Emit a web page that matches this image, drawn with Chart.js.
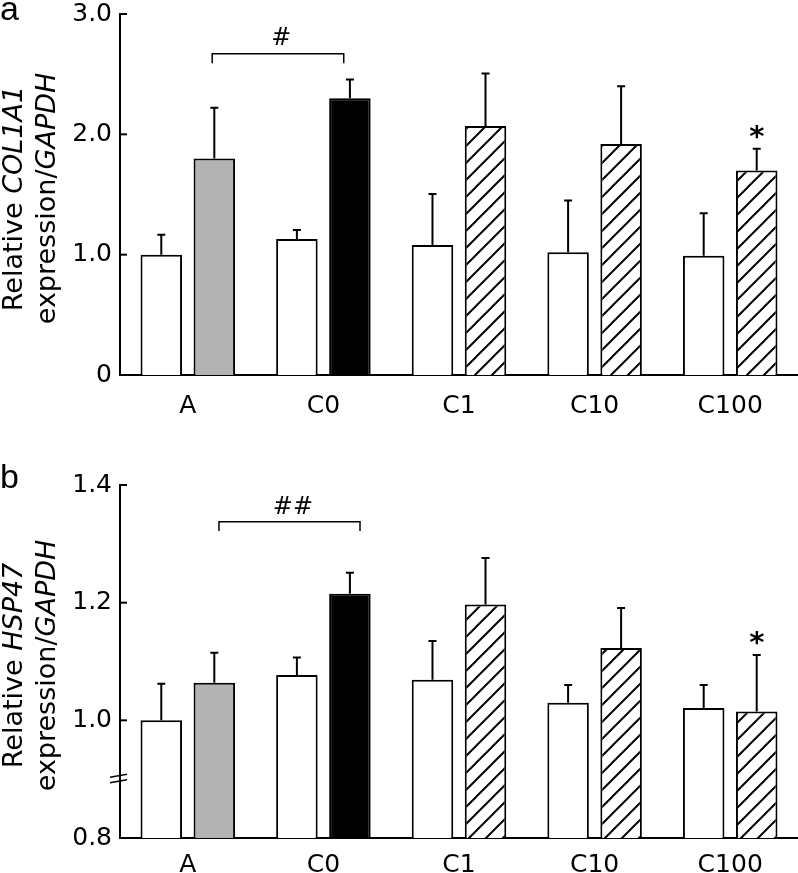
<!DOCTYPE html>
<html>
<head>
<meta charset="utf-8">
<script src="https://cdn.jsdelivr.net/npm/chart.js@4.4.1/dist/chart.umd.min.js"></script>
<style>
  html, body { margin: 0; padding: 0; background: #fff; }
  #wrap { position: relative; width: 798px; height: 873px; overflow: hidden; }
  canvas { position: absolute; left: 0; }
  #chartA { top: 0; }
  #chartB { top: 440px; }
</style>
</head>
<body>
<div id="wrap">
  <canvas id="chartA" width="798" height="440"></canvas>
  <canvas id="chartB" width="798" height="433"></canvas>
</div>
<script>
const categories = ['A', 'C0', 'C1', 'C10', 'C100'];

// panel a: COL1A1
const col1a1Control = [1.00, 1.13, 1.08, 1.02, 0.99];
const col1a1ControlSD = [0.165, 0.075, 0.425, 0.43, 0.355];
const col1a1Treated = [1.80, 2.30, 2.07, 1.92, 1.70];
const col1a1TreatedSD = [0.42, 0.155, 0.435, 0.48, 0.18];
const col1a1Ticks = [0, 1, 2, 3];
const col1a1TickLabels = ['0', '1.0', '2.0', '3.0'];

// panel b: HSP47
const hsp47Control = [1.000, 1.077, 1.069, 1.030, 1.021];
const hsp47ControlSD = [0.062, 0.030, 0.066, 0.030, 0.039];
const hsp47Treated = [1.064, 1.215, 1.197, 1.123, 1.015];
const hsp47TreatedSD = [0.051, 0.036, 0.079, 0.068, 0.096];
const hsp47Ticks = [0.8, 1.0, 1.2, 1.4];
const hsp47TickLabels = ['0.8', '1.0', '1.2', '1.4'];

// significance marks (x in category units, y in data units)
const col1a1Bracket = { from: 0.18, to: 1.15, y: 2.67, drop: 2.59, label: '#', labelX: 0.69, labelY: 2.82 };
const hsp47Bracket = { from: 0.23, to: 1.27, y: 1.3375, drop: 1.322, label: '##', labelX: 0.775, labelY: 1.366 };
const col1a1Stars = [4];
const hsp47Stars = [4];

Chart.defaults.font.family = "'DejaVu Sans', sans-serif";
Chart.defaults.color = '#000';

function makeHatch() {
  const s = 17;
  const c = document.createElement('canvas');
  c.width = s; c.height = s;
  const g = c.getContext('2d');
  g.fillStyle = '#fff';
  g.fillRect(0, 0, s, s);
  g.strokeStyle = '#000';
  g.lineWidth = 2;
  g.beginPath();
  g.moveTo(-2, s + 2); g.lineTo(s + 2, -2);
  g.moveTo(-2, 2); g.lineTo(2, -2);
  g.moveTo(s - 2, s + 2); g.lineTo(s + 2, s - 2);
  g.stroke();
  return g.createPattern(c, 'repeat');
}
const hatch = makeHatch();

function inkText(ctx, s, cx, cy) {
  const m = ctx.measureText(s);
  ctx.textAlign = 'center';
  ctx.textBaseline = 'alphabetic';
  ctx.fillText(s, cx, cy + (m.actualBoundingBoxAscent - m.actualBoundingBoxDescent) / 2);
}

const decor = {
  id: 'decor',
  afterDraw(chart, args, o) {
    const ctx = chart.ctx, x = chart.scales.x, y = chart.scales.y, area = chart.chartArea;
    ctx.save();
    ctx.strokeStyle = '#000';
    ctx.fillStyle = '#000';
    ctx.lineWidth = 2;

    // error bars
    chart.data.datasets.forEach((ds, di) => {
      chart.getDatasetMeta(di).data.forEach((bar, i) => {
        const top = y.getPixelForValue(ds.data[i] + ds.sd[i]);
        ctx.beginPath();
        ctx.moveTo(bar.x, bar.y);
        ctx.lineTo(bar.x, top);
        ctx.moveTo(bar.x - 4, top);
        ctx.lineTo(bar.x + 4, top);
        ctx.stroke();
      });
    });

    // inward tick marks
    y.ticks.forEach(t => {
      const py = y.getPixelForValue(t.value);
      ctx.beginPath();
      ctx.moveTo(area.left, py);
      ctx.lineTo(area.left + 7, py);
      ctx.stroke();
    });

    // axis break
    if (o.breakAt !== undefined) {
      const py = y.getPixelForValue(o.breakAt);
      ctx.lineWidth = 1.5;
      [-3.5, 2].forEach(d => {
        ctx.beginPath();
        ctx.moveTo(area.left - 10, py + d + 1.5);
        ctx.lineTo(area.left + 7, py + d - 1.5);
        ctx.stroke();
      });
    }

    // bracket with label
    const b = o.bracket;
    const x1 = x.getPixelForValue(b.from), x2 = x.getPixelForValue(b.to);
    const by = y.getPixelForValue(b.y), bd = y.getPixelForValue(b.drop);
    ctx.lineWidth = 1.5;
    ctx.beginPath();
    ctx.moveTo(x1, bd); ctx.lineTo(x1, by); ctx.lineTo(x2, by); ctx.lineTo(x2, bd);
    ctx.stroke();
    ctx.font = "24px 'DejaVu Sans'";
    inkText(ctx, b.label, x.getPixelForValue(b.labelX), y.getPixelForValue(b.labelY));

    // stars over treated bars
    const ds = chart.data.datasets[1];
    ctx.font = "bold 29px 'DejaVu Sans'";
    o.stars.forEach(i => {
      const bar = chart.getDatasetMeta(1).data[i];
      const top = y.getPixelForValue(ds.data[i] + ds.sd[i]);
      inkText(ctx, '*', bar.x, top - 17);
    });

    // panel letter
    ctx.font = "34px 'Liberation Sans'";
    ctx.textAlign = 'left';
    ctx.textBaseline = 'alphabetic';
    ctx.fillText(o.letter, 0, o.letterY);

    // y-axis title, two lines with italic gene names
    const cy = (area.top + area.bottom) / 2 + 4;
    o.title.forEach((line, li) => {
      const fonts = line.map(seg => (seg[1] ? 'italic ' : '') + "27px 'DejaVu Sans'");
      let total = 0;
      const widths = line.map((seg, k) => { ctx.font = fonts[k]; const w = ctx.measureText(seg[0]).width; total += w; return w; });
      ctx.save();
      ctx.translate(o.titleX[li], cy);
      ctx.rotate(-Math.PI / 2);
      let pos = -total / 2;
      line.forEach((seg, k) => {
        ctx.font = fonts[k];
        ctx.fillText(seg[0], pos, 0);
        pos += widths[k];
      });
      ctx.restore();
    });
    ctx.restore();
  }
};

function makeChart(id, cfg) {
  return new Chart(document.getElementById(id), {
    type: 'bar',
    data: {
      labels: categories,
      datasets: [
        { data: cfg.control, sd: cfg.controlSD, backgroundColor: '#fff', borderColor: '#000', borderWidth: 2, base: cfg.min },
        { data: cfg.treated, sd: cfg.treatedSD, backgroundColor: ['#b3b3b3', '#000', hatch, hatch, hatch], borderColor: '#000', borderWidth: 2, base: cfg.min },
      ],
    },
    options: {
      responsive: false,
      animation: false,
      categoryPercentage: 0.782,
      barPercentage: 0.783,
      layout: { padding: { top: cfg.top, left: 0, right: 0, bottom: 0 } },
      plugins: {
        legend: { display: false },
        tooltip: { enabled: false },
        decor: cfg.decor,
      },
      scales: {
        x: {
          z: 1,
          grid: { display: false, drawTicks: false },
          border: { display: true, color: '#000', width: 2 },
          ticks: { font: { size: 25 }, padding: cfg.xPad, maxRotation: 0 },
          afterFit: (scale) => { scale.height = cfg.xHeight; scale.paddingLeft = 0; scale.paddingRight = 0; },
        },
        y: {
          z: 1,
          min: cfg.min,
          max: cfg.max,
          grid: { display: false, drawTicks: false },
          border: { display: true, color: '#000', width: 2 },
          ticks: {
            font: { size: 25 },
            padding: 8,
            callback: (v) => { const k = cfg.ticks.findIndex(t => Math.abs(t - v) < 1e-6); return k >= 0 ? cfg.tickLabels[k] : ''; },
          },
          afterBuildTicks: (scale) => { scale.ticks = cfg.ticks.map(v => ({ value: v })); },
          afterFit: (scale) => { scale.width = 120; scale.paddingTop = 0; scale.paddingBottom = 0; },
        },
      },
    },
    plugins: [decor],
  });
}

makeChart('chartA', {
  control: col1a1Control, controlSD: col1a1ControlSD,
  treated: col1a1Treated, treatedSD: col1a1TreatedSD,
  min: 0, max: 3, ticks: col1a1Ticks, tickLabels: col1a1TickLabels,
  top: 14, xHeight: 65, xPad: 16,
  decor: {
    bracket: col1a1Bracket, stars: col1a1Stars, letter: 'a', letterY: 20,
    titleX: [22, 55],
    title: [[['Relative ', false], ['COL1A1', true]], [['expression/', false], ['GAPDH', true]]],
  },
});

makeChart('chartB', {
  control: hsp47Control, controlSD: hsp47ControlSD,
  treated: hsp47Treated, treatedSD: hsp47TreatedSD,
  min: 0.8, max: 1.4, ticks: hsp47Ticks, tickLabels: hsp47TickLabels,
  top: 45, xHeight: 35, xPad: 12,
  decor: {
    bracket: hsp47Bracket, stars: hsp47Stars, letter: 'b', letterY: 48, breakAt: 0.9,
    titleX: [22, 55],
    title: [[['Relative ', false], ['HSP47', true]], [['expression/', false], ['GAPDH', true]]],
  },
});
</script>
</body>
</html>
